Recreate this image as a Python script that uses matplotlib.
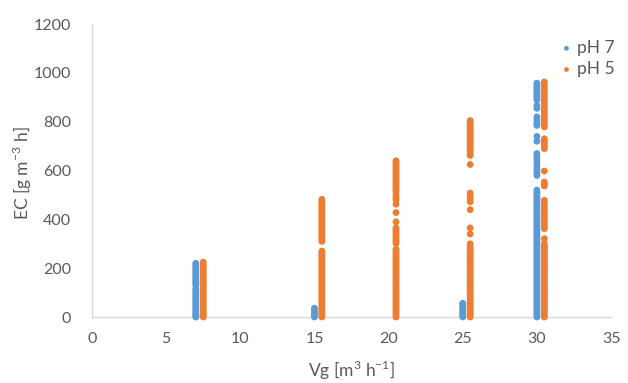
import matplotlib
matplotlib.use("Agg")
import matplotlib.pyplot as plt

# ---- data ----
ph7_vg = [7, 15, 25, 30]
ph5_vg = [7.5, 15.5, 20.5, 25.5, 30.5]

ph7_ec = {
    7: [0, 5, 10, 18, 25, 32, 40, 48, 55, 62, 70, 78, 85, 92, 100, 108, 115,
        130, 138, 145, 152, 160, 168, 175, 182, 190, 198, 205, 212, 220],
    15: [0, 8, 15, 22, 30, 36],
    25: [0, 8, 15, 22, 30, 38, 45, 52, 56],
    30: [0, 8, 15, 22, 30, 38, 45, 52, 60, 68, 75, 82, 90, 98, 105, 112, 120,
         128, 135, 142, 150, 158, 165, 172, 180, 188, 195, 202, 210, 218, 225,
         232, 240, 248, 255, 262, 270, 278, 285, 292, 300, 308, 315, 322, 330,
         338, 345, 352, 360, 368, 375, 382, 390, 398, 405, 412, 420, 428, 435,
         442, 450, 458, 465, 472, 480, 488, 495, 502, 510, 520,
         580, 592, 605, 618, 630, 645, 658, 670, 720, 740, 785, 795, 808, 820,
         855, 867, 890, 898, 905, 912, 920, 928, 935, 942, 950, 958],
}

ph5_ec = {
    7.5: [0, 6, 12, 20, 28, 35, 42, 50, 58, 65, 72, 80, 88, 95, 102, 110, 118,
          125, 132, 140, 148, 155, 162, 170, 178, 185, 192, 200, 208, 215, 225],
    15.5: [0, 8, 15, 22, 30, 38, 45, 52, 60, 68, 75, 82, 90, 98, 105, 112, 120,
           128, 135, 142, 150, 158, 165, 172, 180, 188, 195, 202, 210, 218,
           225, 232, 240, 248, 255, 262, 270,
           310, 318, 325, 332, 340, 348, 355, 362, 370, 378, 385, 392, 400,
           408, 415, 422, 430, 438, 445, 452, 460, 468, 475, 482],
    20.5: [0, 8, 15, 22, 30, 38, 45, 52, 60, 68, 75, 82, 90, 98, 105, 112, 120,
           128, 135, 142, 150, 158, 165, 172, 180, 188, 195, 202, 210, 218,
           225, 232, 240, 248, 255, 262, 270, 278,
           302, 310, 318, 325, 335, 342, 350, 358, 365, 390, 428, 462, 480,
           488, 499, 512, 520, 528, 535, 542, 550, 558, 565, 572, 580, 588,
           595, 602, 610, 618, 625, 632, 640],
    25.5: [0, 8, 15, 22, 30, 38, 45, 52, 60, 68, 75, 82, 90, 98, 105, 112, 120,
           128, 135, 142, 150, 158, 165, 172, 180, 188, 195, 202, 210, 218,
           225, 232, 240, 248, 255, 262, 270, 278, 290, 300, 340, 365, 440,
           472, 485, 500, 508, 625, 662, 670, 678, 685, 692, 700, 708, 715,
           722, 730, 738, 745, 752, 760, 768, 775, 782, 790, 798, 805],
    30.5: [0, 8, 15, 22, 30, 38, 45, 52, 60, 68, 75, 82, 90, 98, 105, 112, 120,
           128, 135, 142, 150, 158, 165, 172, 180, 188, 195, 202, 210, 218,
           225, 232, 240, 248, 255, 262, 270, 278, 285, 292, 300, 321,
           362, 372, 382, 392, 402, 412, 422, 432, 442, 452, 465, 478,
           537, 545, 553, 598, 690, 700, 710, 720, 730, 779, 788, 797, 806,
           815, 825, 835, 845, 855, 865, 875, 885, 895, 905, 915, 925, 935,
           945, 955, 963],
}

x_ticks = [0, 5, 10, 15, 20, 25, 30, 35]
y_ticks = [0, 200, 400, 600, 800, 1000, 1200]

series_names = ["pH 7", "pH 5"]
BLUE = "#5B9BD5"
ORANGE = "#ED7D31"

plt.rcParams['font.family'] = ['Lato', 'DejaVu Sans']

fig = plt.figure(figsize=(6.28, 3.83), dpi=100)
ax = fig.add_axes([0.1465, 0.1723, 0.8265, 0.7647])

x7, y7 = [], []
for vg in ph7_vg:
    x7 += [vg] * len(ph7_ec[vg])
    y7 += ph7_ec[vg]
x5, y5 = [], []
for vg in ph5_vg:
    x5 += [vg] * len(ph5_ec[vg])
    y5 += ph5_ec[vg]

ax.scatter(x7, y7, s=24, color=BLUE, edgecolors='none', label=series_names[0], zorder=3, clip_on=False)
ax.scatter(x5, y5, s=24, color=ORANGE, edgecolors='none', label=series_names[1], zorder=3, clip_on=False)

ax.set_xlim(0, 35)
ax.set_ylim(0, 1200)
ax.set_xticks(x_ticks)
ax.set_yticks(y_ticks)

for s in ['top', 'right']:
    ax.spines[s].set_visible(False)
for s in ['left', 'bottom']:
    ax.spines[s].set_color('#d9d9d9')
    ax.spines[s].set_linewidth(1.0)
ax.tick_params(length=0, colors='#595959', labelsize=11.5)
ax.tick_params(axis='y', pad=15)
ax.tick_params(axis='x', pad=11)

ax.set_xlabel(r'Vg [m$^{\mathregular{3}}$ h$^{\mathregular{-1}}$]', fontsize=12.5, color='#595959')
ax.set_ylabel(r'EC [g m$^{\mathregular{-3}}$ h]', fontsize=12.5, color='#595959')
ax.xaxis.set_label_coords(0.5, -0.143)
ax.yaxis.set_label_coords(-0.112, 0.49)

leg = ax.legend(loc='upper right', bbox_to_anchor=(1.02, 0.97), frameon=False,
                fontsize=12.5, labelcolor='#595959', markerscale=0.7,
                handletextpad=0.1, handlelength=1.0, labelspacing=0.3,
                borderaxespad=0)

fig.savefig('out.png', dpi=100)
